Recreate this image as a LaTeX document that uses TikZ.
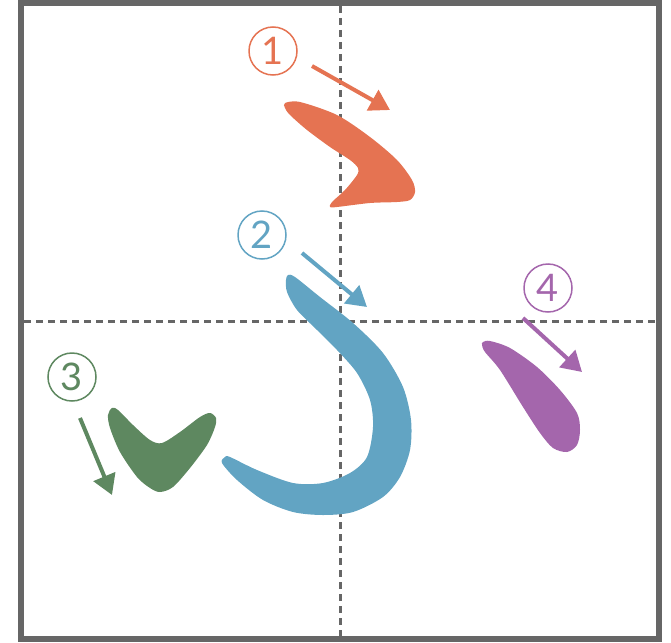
\documentclass[tikz,border=0pt]{standalone}
\usepackage{fontspec}
\setsansfont{Lato}
\usetikzlibrary{arrows.meta}
\definecolor{strokeA}{HTML}{E57352}
\definecolor{strokeB}{HTML}{62A4C3}
\definecolor{strokeC}{HTML}{5E8860}
\definecolor{strokeD}{HTML}{A466AC}
\definecolor{frameGray}{HTML}{666666}
\begin{document}
\begin{tikzpicture}[
        x=1pt, y=-1pt,
        num/.style={draw, circle, line width=1.5pt, minimum size=48pt, inner sep=0pt, font=\sffamily\fontsize{38}{38}\selectfont},
        dir/.style={line width=4pt, -{Triangle[length=20pt, width=23pt]}},
        guide/.style={frameGray, line width=3pt, dash pattern=on 7pt off 5pt}
    ]
        \useasboundingbox (0,0) rectangle (671,642);
        % frame and guide lines
        \draw[frameGray, line width=6pt] (21,3) rectangle (659,639);
        \draw[guide] (340,6) -- (340,636);
        \draw[guide] (24,321) -- (656,321);
        % stroke 1
        \fill[strokeA] plot[smooth cycle, tension=0.5] coordinates {
            (285,103) (300,102) (337,115) (370,137) (397,160) (412,180) (415,192)
            (410,200) (397,202) (370,203) (337,207) (330,207) (332,202) (345,190)
            (357,175) (358,168) (350,160) (330,147) (307,130) (290,115) (285,108)};
        \node[num, strokeA] (num1) at (273,51) {1};
        \coordinate (a1) at (312,66);
        \coordinate (b1) at (390,110);
        \draw[dir, strokeA] (a1) -- (b1);
        % stroke 2
        \fill[strokeB] plot[smooth cycle, tension=0.5] coordinates {
            (288,275) (295,277) (320,297) (353,323) (383,353) (403,387) (411,420)
            (410,450) (400,477) (383,497) (353,512) (323,515) (293,512) (263,500)
            (237,480) (222,463) (225,457) (230,457) (257,470) (293,483) (323,483)
            (350,473) (367,457) (373,427) (370,400) (357,373) (337,350) (317,330)
            (297,310) (287,292) (286,280)};
        \node[num, strokeB] (num2) at (262,235) {2};
        \coordinate (a2) at (302,253);
        \coordinate (b2) at (367,307);
        \draw[dir, strokeB] (a2) -- (b2);
        % stroke 3
        \fill[strokeC] plot[smooth cycle, tension=0.5] coordinates {
            (112,408) (108,415) (110,428) (120,452) (137,477) (150,488) (160,492)
            (173,487) (190,468) (207,445) (215,427) (216,418) (210,413) (200,417)
            (180,432) (162,443) (150,440) (133,425) (118,410)};
        \node[num, strokeC] (num3) at (72,377) {3};
        \coordinate (a3) at (80,418);
        \coordinate (b3) at (112,495);
        \draw[dir, strokeC] (a3) -- (b3);
        % stroke 4
        \fill[strokeD] plot[smooth cycle, tension=0.5] coordinates {
            (483,342) (490,341) (510,348) (537,367) (560,390) (577,413) (580,430)
            (577,445) (567,452) (553,448) (540,433) (523,407) (500,370) (485,352)
            (482,345)};
        \node[num, strokeD] (num4) at (548,288) {4};
        \coordinate (a4) at (523,318);
        \coordinate (b4) at (582,372);
        \draw[dir, strokeD] (a4) -- (b4);
    \end{tikzpicture}
\end{document}
